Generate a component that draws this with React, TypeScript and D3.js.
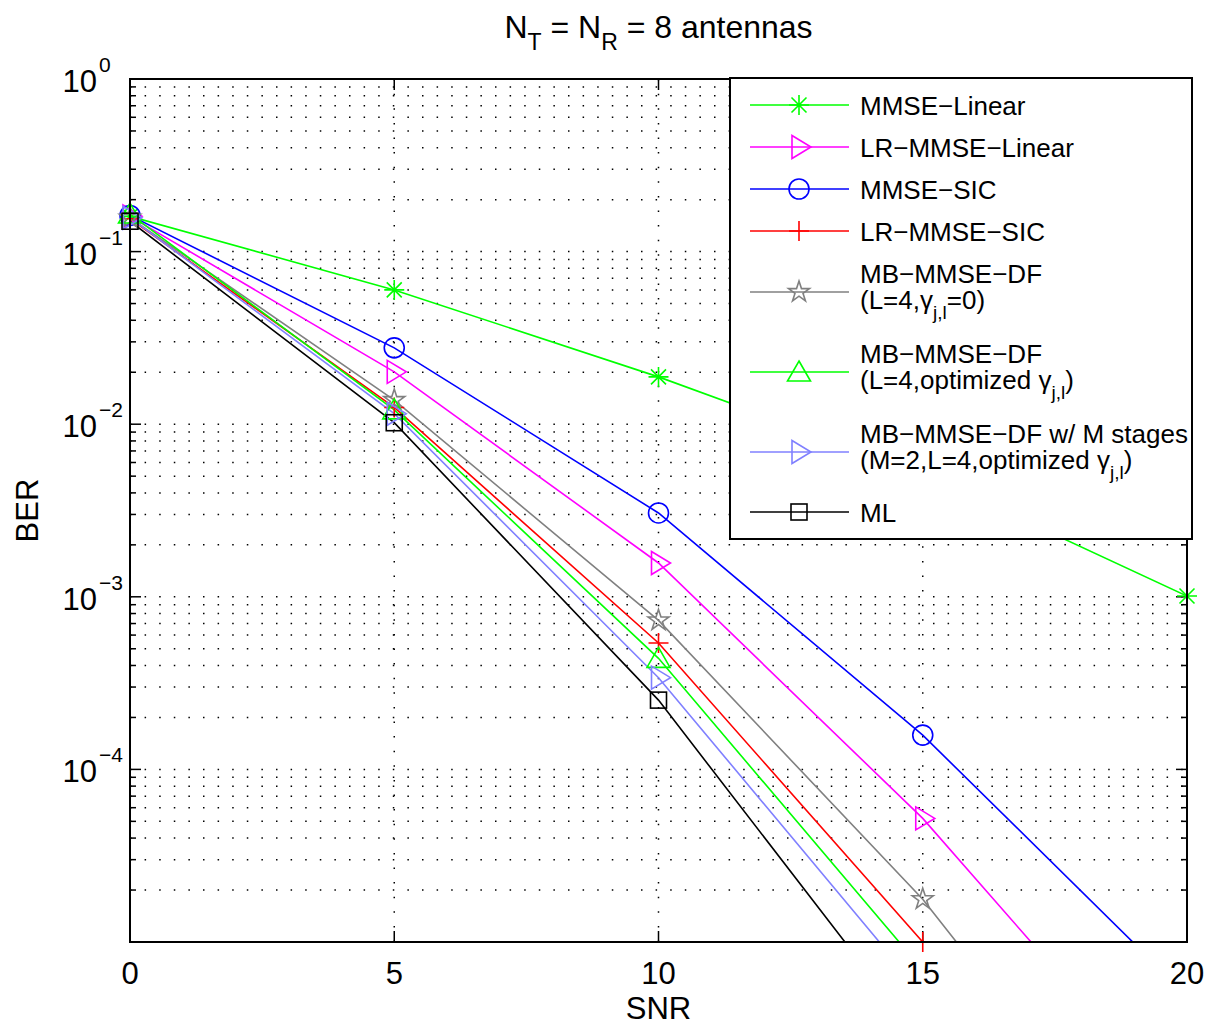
import React from 'react';
import * as d3 from 'd3';

// BER vs SNR
const snr = [0, 5, 10, 15, 20];
const mmseLinear = [0.16, 0.06, 0.0188, 0.0052, 0.00101];
const lrMmseLinear = [0.16, 0.0201, 0.00157, 5.2e-5, 9.3e-7];
const mmseSic = [0.162, 0.0277, 0.00306, 1.58e-4, 4.9e-6];
const lrMmseSic = [0.155, 0.0125, 5.4e-4, 1.0e-5];
const mbDfZero = [0.157, 0.0138, 7.3e-4, 1.77e-5, 2.0e-7];
const mbDfOpt = [0.165, 0.0121, 4.4e-4, 6.9e-6];
const mbDfStages = [0.157, 0.0115, 3.4e-4, 5.0e-6];
const ml = [0.15, 0.0102, 2.52e-4, 2.6e-6];

const xTicks = [0, 5, 10, 15, 20];
const yTickExp = [0, -1, -2, -3, -4];

type Seg = { t: string; sub?: boolean };

const series = [
  { values: mmseLinear, color: '#00ff00', marker: 'asterisk', label: [[{ t: 'MMSE\u2212Linear' }]] },
  { values: lrMmseLinear, color: '#ff00ff', marker: 'right', label: [[{ t: 'LR\u2212MMSE\u2212Linear' }]] },
  { values: mmseSic, color: '#0000ff', marker: 'circle', label: [[{ t: 'MMSE\u2212SIC' }]] },
  { values: lrMmseSic, color: '#ff0000', marker: 'plus', label: [[{ t: 'LR\u2212MMSE\u2212SIC' }]] },
  {
    values: mbDfZero, color: '#808080', marker: 'star',
    label: [[{ t: 'MB\u2212MMSE\u2212DF' }], [{ t: '(L=4,\u03b3' }, { t: 'j,l', sub: true }, { t: '=0)' }]],
  },
  {
    values: mbDfOpt, color: '#00ff00', marker: 'up',
    label: [[{ t: 'MB\u2212MMSE\u2212DF' }], [{ t: '(L=4,optimized \u03b3' }, { t: 'j,l', sub: true }, { t: ')' }]],
  },
  {
    values: mbDfStages, color: '#8080ff', marker: 'right',
    label: [[{ t: 'MB\u2212MMSE\u2212DF w/ M stages' }], [{ t: '(M=2,L=4,optimized \u03b3' }, { t: 'j,l', sub: true }, { t: ')' }]],
  },
  { values: ml, color: '#000000', marker: 'square', label: [[{ t: 'ML' }]] },
];

const legendRows = [105, 147, 189, 231, 292, 372, 452, 512];

const FONT = '"Liberation Sans", Arial, Helvetica, sans-serif';

function Marker({ shape, cx, cy, color }: { shape: string; cx: number; cy: number; color: string }) {
  const common = { fill: 'none', stroke: color, strokeWidth: 1.6 };
  switch (shape) {
    case 'asterisk': {
      const r = 10, d = 7.5;
      return (
        <path {...common}
          d={`M${cx - r},${cy}h${2 * r}M${cx},${cy - r}v${2 * r}M${cx - d},${cy - d}l${2 * d},${2 * d}M${cx - d},${cy + d}l${2 * d},${-2 * d}`} />
      );
    }
    case 'right':
      return <path {...common} d={`M${cx - 7},${cy - 11.5}L${cx + 12},${cy}L${cx - 7},${cy + 11.5}Z`} />;
    case 'up':
      return <path {...common} d={`M${cx},${cy - 11}L${cx + 11.5},${cy + 9}L${cx - 11.5},${cy + 9}Z`} />;
    case 'circle':
      return <circle {...common} cx={cx} cy={cy} r={10} />;
    case 'plus':
      return <path {...common} d={`M${cx - 10},${cy}h20M${cx},${cy - 10}v20`} />;
    case 'square':
      return <rect {...common} x={cx - 8} y={cy - 8} width={16} height={16} />;
    case 'star': {
      const R = 11, r = R * 0.382;
      const pts = d3.range(10).map((i) => {
        const a = -Math.PI / 2 + (i * Math.PI) / 5;
        const rr = i % 2 === 0 ? R : r;
        return [cx + rr * Math.cos(a), cy + rr * Math.sin(a)];
      });
      return <path {...common} d={'M' + pts.map((p) => p.join(',')).join('L') + 'Z'} />;
    }
    default:
      return null;
  }
}

// one legend label as a single <text>; lines and subscripts are tspans with absolute y
function Label({ lines, x, y }: { lines: Seg[][]; x: number; y: number }) {
  const base = lines.length === 1 ? [y + 10] : [y - 9, y + 17];
  return (
    <text fontSize={26} fontFamily={FONT} fill="#000">
      {lines.map((line, li) =>
        line.map((s, si) => (
          <tspan
            key={li + '-' + si}
            x={si === 0 ? x : undefined}
            y={base[li] + (s.sub ? 10 : 0)}
            fontSize={s.sub ? 19 : 26}
          >
            {s.t}
          </tspan>
        ))
      )}
    </text>
  );
}

export default function App() {
  const W = 1224, H = 1030;
  const left = 130, right = 1187, top = 79, bottom = 942;

  const x = d3.scaleLinear().domain([0, 20]).range([left, right]);
  const y = d3.scaleLog().domain([1e-5, 1]).range([bottom, top]);

  const line = d3
    .line<[number, number]>()
    .x((d) => x(d[0]))
    .y((d) => y(d[1]));

  const yAll = y.ticks();
  const yMajor = yTickExp.map((e) => Math.pow(10, e)).concat([1e-5]);
  const isMajor = (v: number) => yMajor.some((m) => Math.abs(Math.log10(v) - Math.log10(m)) < 1e-6);
  const yGrid = yAll.filter((v) => y(v) > top + 0.5 && y(v) < bottom - 0.5);
  const dots = '1.5 13.1';

  return (
    <svg width={W} height={H} style={{ position: 'absolute', left: 0, top: 0, background: '#fff' }}>
      <defs>
        <clipPath id="plotClip">
          <rect x={left} y={top} width={right - left} height={bottom - top} />
        </clipPath>
      </defs>
      <rect x={0} y={0} width={W} height={H} fill="#fff" />

      {/* grid */}
      <g stroke="#000" strokeWidth={1.5} strokeDasharray={dots}>
        {yGrid.map((v, i) => (
          <line key={'gy' + i} x1={left} x2={right} y1={y(v)} y2={y(v)} />
        ))}
        {xTicks.slice(1, -1).map((v) => (
          <line key={'gx' + v} x1={x(v)} x2={x(v)} y1={bottom} y2={top} />
        ))}
      </g>

      {/* ticks */}
      <g stroke="#000" strokeWidth={1.5}>
        {yAll.map((v, i) => {
          const len = isMajor(v) ? 11 : 6;
          return (
            <g key={'ty' + i}>
              <line x1={left} x2={left + len} y1={y(v)} y2={y(v)} />
              <line x1={right} x2={right - len} y1={y(v)} y2={y(v)} />
            </g>
          );
        })}
        {xTicks.map((v) => (
          <g key={'tx' + v}>
            <line x1={x(v)} x2={x(v)} y1={bottom} y2={bottom - 11} />
            <line x1={x(v)} x2={x(v)} y1={top} y2={top + 11} />
          </g>
        ))}
      </g>

      {/* series lines */}
      <g clipPath="url(#plotClip)" fill="none">
        {series.map((s, i) => (
          <path
            key={'l' + i}
            d={line(s.values.map((v, j) => [snr[j], v] as [number, number])) || ''}
            stroke={s.color}
            strokeWidth={1.6}
          />
        ))}
      </g>

      {/* markers */}
      {series.map((s, i) => (
        <g key={'m' + i}>
          {s.values.map((v, j) =>
            v >= 1e-5 * 0.999 && v <= 1 ? (
              <Marker key={j} shape={s.marker} cx={x(snr[j])} cy={y(v)} color={s.color} />
            ) : null
          )}
        </g>
      ))}

      {/* axes box */}
      <rect x={left} y={top} width={right - left} height={bottom - top} fill="none" stroke="#000" strokeWidth={2} />

      {/* tick labels */}
      <g fontFamily={FONT} fill="#000">
        {xTicks.map((v) => (
          <text key={'lx' + v} x={x(v)} y={984} fontSize={31} textAnchor="middle">
            {v}
          </text>
        ))}
        {yTickExp.map((e) => {
          const py = y(Math.pow(10, e));
          return (
            <g key={'ly' + e}>
              <text x={97} y={py + 13} fontSize={31} textAnchor="end">
                10
              </text>
              <text x={99} y={py - 7} fontSize={21} textAnchor="start">
                {e === 0 ? '0' : '\u2212' + Math.abs(e)}
              </text>
            </g>
          );
        })}
      </g>

      {/* axis labels and title */}
      <text x={(left + right) / 2} y={1019} fontSize={31} fontFamily={FONT} textAnchor="middle">
        SNR
      </text>
      <text
        transform={`translate(38,${(top + bottom) / 2}) rotate(-90)`}
        fontSize={31}
        fontFamily={FONT}
        textAnchor="middle"
      >
        BER
      </text>
      <text x={(left + right) / 2} y={38} fontSize={32} fontFamily={FONT} textAnchor="middle">
        <tspan>N</tspan>
        <tspan dy={12} fontSize={23}>T</tspan>
        <tspan dy={-12}> = N</tspan>
        <tspan dy={12} fontSize={23}>R</tspan>
        <tspan dy={-12}> = 8 antennas</tspan>
      </text>

      {/* legend */}
      <rect x={730} y={78} width={462} height={461} fill="#fff" stroke="#000" strokeWidth={2} />
      {series.map((s, i) => {
        const ry = legendRows[i];
        return (
          <g key={'lg' + i}>
            <line x1={750} x2={849} y1={ry} y2={ry} stroke={s.color} strokeWidth={1.6} />
            <Marker shape={s.marker} cx={799} cy={ry} color={s.color} />
            <Label lines={s.label} x={860} y={ry} />
          </g>
        );
      })}
    </svg>
  );
}
